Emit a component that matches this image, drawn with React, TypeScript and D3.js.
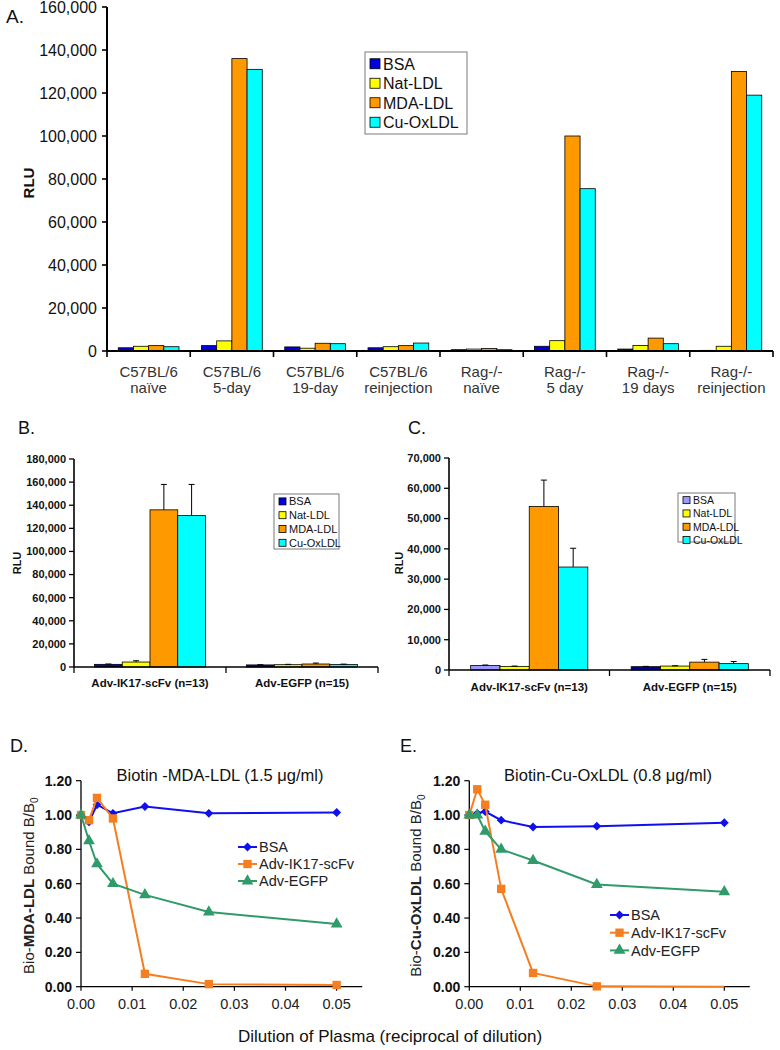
import React from "react";
import * as d3 from "d3";

const FONT = "Arial, 'Liberation Sans', Helvetica, sans-serif";

// ---------- Shared ----------
const seriesNames = ["BSA", "Nat-LDL", "MDA-LDL", "Cu-OxLDL"];
const seriesColors = ["#0000dd", "#ffff00", "#ff9900", "#00ffff"];

// ---------- Panel A ----------
const aCatLine1 = ["C57BL/6", "C57BL/6", "C57BL/6", "C57BL/6", "Rag-/-", "Rag-/-", "Rag-/-", "Rag-/-"];
const aCatLine2 = ["naïve", "5-day", "19-day", "reinjection", "naïve", "5 day", "19 days", "reinjection"];
const aBSA = [1500, 2500, 1900, 1500, 600, 2200, 900, 300];
const aNat = [2200, 4700, 1300, 2000, 900, 4800, 2600, 2200];
const aMDA = [2500, 136000, 3600, 2500, 1200, 100000, 6000, 130000];
const aCu = [2000, 131000, 3400, 3700, 600, 75500, 3400, 119000];
const aTicks = [0, 20000, 40000, 60000, 80000, 100000, 120000, 140000, 160000];

// ---------- Panel B ----------
const bCats = ["Adv-IK17-scFv (n=13)", "Adv-EGFP (n=15)"];
const bBSA = [2300, 1800];
const bNat = [4300, 2000];
const bMDA = [136000, 2600];
const bCu = [131000, 2200];
const bBSAErr = [300, 200];
const bNatErr = [1100, 300];
const bMDAErr = [22000, 800];
const bCuErr = [27000, 300];
const bTicks = [0, 20000, 40000, 60000, 80000, 100000, 120000, 140000, 160000, 180000];

// ---------- Panel C ----------
const cCats = ["Adv-IK17-scFv (n=13)", "Adv-EGFP (n=15)"];
const cBSA = [1500, 1100];
const cNat = [1200, 1300];
const cMDA = [54000, 2600];
const cCu = [34000, 2100];
const cBSAErr = [150, 100];
const cNatErr = [100, 100];
const cMDAErr = [8700, 900];
const cCuErr = [6200, 700];
const cBSAColors = ["#9999ff", "#000099"];
const cLegendColors = ["#9999ff", "#ffff00", "#ff9900", "#00ffff"];
const cTicks = [0, 10000, 20000, 30000, 40000, 50000, 60000, 70000];

// ---------- Panels D / E ----------
const dilution = [0, 0.0015625, 0.003125, 0.00625, 0.0125, 0.025, 0.05];
const lineNames = ["BSA", "Adv-IK17-scFv", "Adv-EGFP"];
const lineColors = ["#1010ee", "#f57f20", "#2f9a6a"];
const dBSA = [1.0, 0.96, 1.06, 1.01, 1.05, 1.01, 1.015];
const dIK17 = [1.0, 0.97, 1.1, 0.98, 0.075, 0.015, 0.01];
const dEGFP = [1.0, 0.85, 0.715, 0.6, 0.535, 0.435, 0.365];
const eBSA = [1.0, 1.01, 1.02, 0.97, 0.93, 0.935, 0.955];
const eIK17 = [1.0, 1.15, 1.06, 0.57, 0.08, 0.002, 0.0];
const eEGFP = [1.0, 1.0, 0.905, 0.8, 0.735, 0.595, 0.553];
const eIK17MarkerShown = [1, 1, 1, 1, 1, 1, 0];
const lineYTicks = [0, 0.2, 0.4, 0.6, 0.8, 1.0, 1.2];
const lineXTicks = [0, 0.01, 0.02, 0.03, 0.04, 0.05];

type BarSeries = { values: number[]; errors?: number[]; colors: string[] };

function BarPanel(props: {
  x0: number; x1: number; yZero: number; yTop: number; yMax: number;
  ticks: number[]; tickFont: number; tickBold: boolean; tickGap: number;
  catLines: string[][]; catY: number; catFont: number; catBold: boolean; catLineH: number; catColor: string;
  series: BarSeries[]; axisW: number; errCap: number;
  legend: { x: number; y: number; w: number; h: number; rowH: number; sw: number; font: number; colors: string[]; pad: number };
  ylabel: { x: number; y: number; font: number };
}) {
  const p = props;
  const n = p.catLines.length;
  const xb = d3.scaleBand<number>().domain(d3.range(n)).range([p.x0, p.x1]).paddingInner(0).paddingOuter(0);
  const xs = d3.scaleBand<number>().domain(d3.range(p.series.length)).range([0, xb.bandwidth()]).paddingInner(0).paddingOuter(0.74);
  const y = d3.scaleLinear().domain([0, p.yMax]).range([p.yZero, p.yTop]);
  const fmt = d3.format(",");
  const bounds = d3.range(n + 1).map((i) => (i < n ? (xb(i) as number) : p.x1));
  return (
    <g fontFamily={FONT}>
      {p.series.map((s, si) =>
        s.values.map((v, ci) => {
          const bx = (xb(ci) as number) + (xs(si) as number);
          const bw = xs.bandwidth();
          return (
            <g key={`b${si}-${ci}`}>
              <rect x={bx} y={y(v)} width={bw} height={p.yZero - y(v)} fill={s.colors[ci]} stroke="#000" strokeWidth={0.8} />
              {s.errors ? (
                <g stroke="#000" strokeWidth={1}>
                  <line x1={bx + bw / 2} x2={bx + bw / 2} y1={y(v)} y2={y(v + s.errors[ci])} />
                  <line x1={bx + bw / 2 - p.errCap} x2={bx + bw / 2 + p.errCap} y1={y(v + s.errors[ci])} y2={y(v + s.errors[ci])} />
                </g>
              ) : null}
            </g>
          );
        })
      )}
      {/* y axis */}
      <line x1={p.x0} x2={p.x0} y1={p.yZero} y2={y(p.yMax)} stroke="#000" strokeWidth={p.axisW} />
      {p.ticks.map((t) => (
        <g key={`t${t}`}>
          <line x1={p.x0 - 5} x2={p.x0} y1={y(t)} y2={y(t)} stroke="#000" strokeWidth={p.axisW * 0.8} />
          <text x={p.x0 - p.tickGap} y={y(t)} dy="0.35em" textAnchor="end" fontSize={p.tickFont} fontWeight={p.tickBold ? "bold" : "normal"} fill="#111">
            {fmt(t)}
          </text>
        </g>
      ))}
      {/* x axis */}
      <line x1={p.x0} x2={p.x1} y1={p.yZero} y2={p.yZero} stroke="#000" strokeWidth={p.axisW} />
      {bounds.map((bx, i) => (
        <line key={`xt${i}`} x1={bx} x2={bx} y1={p.yZero} y2={p.yZero + 6} stroke="#000" strokeWidth={p.axisW * 0.8} />
      ))}
      {p.catLines.map((lines, ci) => (
        <text key={`c${ci}`} x={(xb(ci) as number) + xb.bandwidth() / 2} y={p.catY} textAnchor="middle" fontSize={p.catFont} fontWeight={p.catBold ? "bold" : "normal"} fill={p.catColor}>
          {lines.map((l, li) => (
            <tspan key={li} x={(xb(ci) as number) + xb.bandwidth() / 2} dy={li === 0 ? 0 : p.catLineH}>
              {l}
            </tspan>
          ))}
        </text>
      ))}
      {/* y label */}
      <text transform={`translate(${p.ylabel.x},${p.ylabel.y}) rotate(-90)`} textAnchor="middle" dy="0.35em" fontSize={p.ylabel.font} fontWeight="bold" fill="#111">
        RLU
      </text>
      {/* legend */}
      <g>
        <rect x={p.legend.x} y={p.legend.y} width={p.legend.w} height={p.legend.h} fill="#fff" stroke="#7a7a7a" strokeWidth={1} />
        {seriesNames.map((nm, i) => {
          const cy = p.legend.y + p.legend.pad + p.legend.rowH * (i + 0.5);
          return (
            <g key={nm}>
              <rect x={p.legend.x + 5} y={cy - p.legend.sw / 2} width={p.legend.sw} height={p.legend.sw} fill={p.legend.colors[i]} stroke="#000" strokeWidth={0.8} />
              <text x={p.legend.x + 8 + p.legend.sw} y={cy} dy="0.36em" fontSize={p.legend.font} fill="#111">
                {nm}
              </text>
            </g>
          );
        })}
      </g>
    </g>
  );
}

type LineSeries = { values: number[]; color: string; marker: d3.SymbolType; size: number; shown?: number[] };

function LinePanel(props: {
  x0: number; xPerUnit: number; xMax: number; yZero: number; yTop: number;
  series: LineSeries[];
  title: string; titleX: number; titleY: number;
  boldPart: string; ylabelX: number;
  legend: { x: number; y: number; rowH: number };
}) {
  const p = props;
  const x = d3.scaleLinear().domain([0, p.xMax]).range([p.x0, p.x0 + p.xPerUnit * p.xMax]);
  const y = d3.scaleLinear().domain([0, 1.2]).range([p.yZero, p.yTop]);
  const line = d3.line<number>().x((_, i) => x(dilution[i])).y((v) => y(v));
  return (
    <g fontFamily={FONT}>
      <line x1={p.x0} x2={p.x0} y1={p.yZero} y2={p.yTop} stroke="#000" strokeWidth={1.3} />
      {lineYTicks.map((t) => (
        <g key={`y${t}`}>
          <line x1={p.x0 - 5} x2={p.x0} y1={y(t)} y2={y(t)} stroke="#000" strokeWidth={1.2} />
          <text x={p.x0 - 9} y={y(t)} dy="0.36em" textAnchor="end" fontSize={14} fontWeight="bold" fill="#111">
            {d3.format(".2f")(t)}
          </text>
        </g>
      ))}
      <line x1={p.x0} x2={x(p.xMax)} y1={p.yZero} y2={p.yZero} stroke="#000" strokeWidth={1.3} />
      {lineXTicks.map((t) => (
        <g key={`x${t}`}>
          <line x1={x(t)} x2={x(t)} y1={p.yZero} y2={p.yZero + 4} stroke="#000" strokeWidth={1.2} />
          <text x={x(t)} y={p.yZero + 22} textAnchor="middle" fontSize={14.5} fill="#222">
            {d3.format(".2f")(t)}
          </text>
        </g>
      ))}
      {p.series.map((s, si) => (
        <g key={`s${si}`}>
          <path d={line(s.values) || ""} fill="none" stroke={s.color} strokeWidth={2} />
          {s.values.map((v, i) =>
            !s.shown || s.shown[i] ? (
              <path key={i} transform={`translate(${x(dilution[i])},${y(v)})`} d={d3.symbol(s.marker, s.size)() || ""} fill={s.color} />
            ) : null
          )}
        </g>
      ))}
      <text x={p.titleX} y={p.titleY} textAnchor="middle" fontSize={16.5} fill="#111">
        {p.title}
      </text>
      <text transform={`translate(${p.ylabelX},${(p.yZero + p.yTop) / 2 + 2}) rotate(-90)`} textAnchor="middle" fontSize={15} fill="#222">
        <tspan>Bio-</tspan>
        <tspan fontWeight="bold">{p.boldPart}</tspan>
        <tspan> Bound B/B</tspan>
        <tspan fontSize={10} dy="4">0</tspan>
      </text>
      {p.series.map((s, si) => {
        const cy = p.legend.y + si * p.legend.rowH;
        return (
          <g key={`l${si}`}>
            <line x1={p.legend.x} x2={p.legend.x + 19} y1={cy} y2={cy} stroke={s.color} strokeWidth={2} />
            <path transform={`translate(${p.legend.x + 9.5},${cy})`} d={d3.symbol(s.marker, s.size)() || ""} fill={s.color} />
            <text x={p.legend.x + 21} y={cy} dy="0.36em" fontSize={14.5} fill="#222">
              {lineNames[si]}
            </text>
          </g>
        );
      })}
    </g>
  );
}

export default function App() {
  const aSeries: BarSeries[] = [aBSA, aNat, aMDA, aCu].map((v, i) => ({ values: v, colors: v.map(() => seriesColors[i]) }));
  const bSeries: BarSeries[] = [
    { values: bBSA, errors: bBSAErr, colors: bBSA.map(() => seriesColors[0]) },
    { values: bNat, errors: bNatErr, colors: bNat.map(() => seriesColors[1]) },
    { values: bMDA, errors: bMDAErr, colors: bMDA.map(() => seriesColors[2]) },
    { values: bCu, errors: bCuErr, colors: bCu.map(() => seriesColors[3]) },
  ];
  const cSeries: BarSeries[] = [
    { values: cBSA, errors: cBSAErr, colors: cBSAColors },
    { values: cNat, errors: cNatErr, colors: cNat.map(() => seriesColors[1]) },
    { values: cMDA, errors: cMDAErr, colors: cMDA.map(() => seriesColors[2]) },
    { values: cCu, errors: cCuErr, colors: cCu.map(() => seriesColors[3]) },
  ];
  const mk = (vals: number[], i: number, shown?: number[]): LineSeries => ({
    values: vals,
    color: lineColors[i],
    marker: [d3.symbolDiamond2, d3.symbolSquare, d3.symbolTriangle][i],
    size: [50, 70, 60][i],
    shown,
  });
  return (
    <svg width={780} height={1050} style={{ position: "absolute", left: 0, top: 0, background: "#fff" }} fontFamily={FONT}>
      <rect x={0} y={0} width={780} height={1050} fill="#fff" />
      {/* Panel letters */}
      <text x={6} y={23} fontSize={19} fontFamily={FONT} fill="#111">A.</text>
      <text x={18} y={434} fontSize={18} fontFamily={FONT} fill="#111">B.</text>
      <text x={408} y={434} fontSize={18} fontFamily={FONT} fill="#111">C.</text>
      <text x={10} y={752} fontSize={18} fontFamily={FONT} fill="#111">D.</text>
      <text x={400} y={752} fontSize={18} fontFamily={FONT} fill="#111">E.</text>

      <BarPanel
        x0={107} x1={773} yZero={351} yTop={7} yMax={160000}
        ticks={aTicks} tickFont={16} tickBold={false} tickGap={10}
        catLines={aCatLine1.map((l, i) => [l, aCatLine2[i]])} catY={377} catFont={15} catBold={false} catLineH={16} catColor="#333"
        series={aSeries} axisW={2} errCap={3}
        legend={{ x: 365, y: 52, w: 102, h: 82, rowH: 19.5, sw: 10, font: 16, colors: seriesColors, pad: 2 }}
        ylabel={{ x: 29, y: 183, font: 15 }}
      />
      <BarPanel
        x0={74} x1={378} yZero={667} yTop={459} yMax={180000}
        ticks={bTicks} tickFont={11} tickBold={true} tickGap={8}
        catLines={bCats.map((c) => [c])} catY={687} catFont={11.5} catBold={true} catLineH={13} catColor="#111"
        series={bSeries} axisW={1.6} errCap={3}
        legend={{ x: 274, y: 494, w: 65, h: 55, rowH: 13.8, sw: 7, font: 11, colors: seriesColors, pad: 0.5 }}
        ylabel={{ x: 17, y: 563, font: 11 }}
      />
      <BarPanel
        x0={449} x1={770} yZero={670} yTop={458} yMax={70000}
        ticks={cTicks} tickFont={11} tickBold={true} tickGap={8}
        catLines={cCats.map((c) => [c])} catY={691} catFont={11.5} catBold={true} catLineH={13} catColor="#111"
        series={cSeries} axisW={1.6} errCap={3}
        legend={{ x: 678, y: 493, w: 57, h: 49, rowH: 13.3, sw: 7, font: 10.5, colors: cLegendColors, pad: 0.5 }}
        ylabel={{ x: 399, y: 563, font: 11 }}
      />

      <LinePanel
        x0={81} xPerUnit={5113} xMax={0.055} yZero={986.7} yTop={780.7}
        series={[mk(dBSA, 0), mk(dIK17, 1), mk(dEGFP, 2)]}
        title="Biotin -MDA-LDL (1.5 μg/ml)" titleX={220} titleY={781}
        boldPart="MDA-LDL" ylabelX={34}
        legend={{ x: 238, y: 847, rowH: 17 }}
      />
      <LinePanel
        x0={469.3} xPerUnit={5100} xMax={0.055} yZero={986.7} yTop={780.7}
        series={[mk(eBSA, 0), mk(eIK17, 1, eIK17MarkerShown), mk(eEGFP, 2)]}
        title="Biotin-Cu-OxLDL (0.8 μg/ml)" titleX={608} titleY={781}
        boldPart="Cu-OxLDL" ylabelX={421}
        legend={{ x: 610, y: 915, rowH: 17.7 }}
      />
      <text x={390} y={1042} textAnchor="middle" fontSize={17} fontFamily={FONT} fill="#111">
        Dilution of Plasma (reciprocal of dilution)
      </text>
    </svg>
  );
}
